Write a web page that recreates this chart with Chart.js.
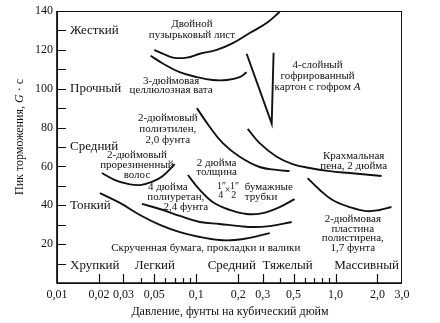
<!DOCTYPE html>
<html>
<head>
<meta charset="utf-8">
<script src="https://cdn.jsdelivr.net/npm/chart.js@4.4.1/dist/chart.umd.min.js"></script>
<style>
  html, body { margin: 0; padding: 0; background: #fff; }
  #wrap { width: 440px; height: 323px; }
</style>
</head>
<body>
<div id="wrap"><canvas id="chart" width="440" height="323"></canvas></div>
<script>
// static pressure, psi (log axis) vs. peak deceleration, G
const bubbleX = [0.050, 0.0575, 0.068, 0.0855, 0.106, 0.140, 0.183, 0.242, 0.320, 0.397];
const bubbleY = [120, 118, 116, 116, 118, 120, 123.5, 128.7, 133.8, 139.5];

const celluloseX = [0.047, 0.0575, 0.076, 0.101, 0.131, 0.166, 0.205, 0.230];
const celluloseY = [117, 113, 108.5, 106, 104.5, 104.5, 106, 108.5];

const cartonX = [0.230, 0.348, 0.359];
const cartonY = [118, 82, 118.5];

const polyethyleneX = [0.101, 0.125, 0.155, 0.205, 0.285, 0.378, 0.468];
const polyethyleneY = [90, 80.3, 72, 65, 59.7, 58.2, 57.6];

const starchX = [0.234, 0.285, 0.378, 0.492, 0.651, 0.906, 1.26, 2.14];
const starchY = [79.3, 72, 65, 61.2, 59.2, 57.6, 56.6, 55.1];

const polystyreneX = [0.63, 0.768, 0.952, 1.26, 1.67, 2.07, 2.52];
const polystyreneY = [54, 48, 42.7, 39.1, 37, 37.6, 39.1];

const tubesX = [0.087, 0.106, 0.131, 0.174, 0.230, 0.300, 0.397, 0.508];
const tubesY = [55.6, 47.9, 41.7, 37.6, 35.5, 36, 39.1, 43.2];

const urethaneX = [0.0407, 0.0548, 0.0762, 0.106, 0.147, 0.205, 0.254, 0.337, 0.484];
const urethaneY = [40.7, 38.1, 34.5, 31.4, 30.4, 29.3, 28.8, 29.3, 31.4];

const twistedX = [0.0203, 0.0283, 0.0394, 0.0548, 0.0762, 0.106, 0.147, 0.189, 0.242, 0.337];
const twistedY = [46.3, 41.2, 35, 29.9, 26.2, 23.7, 22.1, 22.1, 23.2, 25.7];

const hairX = [0.021, 0.0261, 0.0323, 0.0394, 0.048, 0.0575, 0.0701];
const hairY = [56.6, 53, 51, 50.4, 52, 55.1, 61.2];

const xTickValues = [0.01, 0.02, 0.03, 0.05, 0.1, 0.2, 0.3, 0.5, 1.0, 2.0, 3.0];
const xTickLabels = ['0,01', '0,02', '0,03', '0,05', '0,1', '0,2', '0,3', '0,5', '1,0', '2,0', '3,0'];
const xMinorValues = [0.04, 0.06, 0.07, 0.08, 0.09, 0.4, 0.6, 0.7, 0.8, 0.9];
const yTickValues = [20, 40, 60, 80, 100, 120, 140];
const yMinorValues = [10, 30, 50, 70, 90, 110, 130];

const yClassLabels = ['Хрупкий', 'Тонкий', 'Средний', 'Прочный', 'Жесткий'];
const yClassValues = [10, 40, 70, 100, 130];
const xClassLabels = ['Легкий', 'Средний', 'Тяжелый', 'Массивный'];
const xClassValues = [0.0504, 0.180, 0.453, 1.67];

const SERIF = "'Liberation Serif', 'DejaVu Serif', serif";
const INK = '#111';

function pts(xs, ys) {
  return xs.map((x, i) => ({ x: x, y: ys[i] }));
}

function curve(label, xs, ys, tension) {
  return {
    label: label,
    data: pts(xs, ys),
    borderColor: INK,
    borderWidth: 1.9,
    pointRadius: 0,
    tension: tension,
    fill: false
  };
}

// curve captions: anchor in data units, lines stacked downwards
const notes = [
  { x: 0.093, y: 133.3, lines: ['Двойной', 'пузырьковый лист'] },
  { x: 0.066, y: 104, lines: ['3-дюймовая', 'целлюлозная вата'], lh: 9.5 },
  { x: 0.743, y: 112.2, lines: ['4-слойный', 'гофрированный', [['картон с гофром ', false], ['А', true]]] },
  { x: 0.0625, y: 84.9, lines: ['2-дюймовый', 'полиэтилен,', '2,0 фунта'] },
  { x: 0.0375, y: 65.9, lines: ['2-дюймовый', 'прорезиненный', 'волос'], lh: 10 },
  { x: 0.140, y: 61.8, lines: ['2 дюйма', 'толщина'], lh: 9.5 },
  { x: 0.223, y: 49.4, lines: ['бумажные', 'трубки'], lh: 10, align: 'left' },
  { x: 0.0625, y: 49.4, lines: ['4 дюйма', 'полиуретан,', '2,4 фунта'], lh: 10, dx: [0, 8, 18] },
  { x: 0.117, y: 18, lines: ['Скрученная бумага, прокладки и валики'] },
  { x: 1.35, y: 65.4, lines: ['Крахмальная', 'пена, 2 дюйма'], lh: 10 },
  { x: 1.33, y: 32.9, lines: ['2-дюймовая', 'пластина', 'полистирена,', '1,7 фунта'], lh: 9.7 }
];

function drawParts(ctx, parts, x, y, align, size) {
  let total = 0;
  parts.forEach(p => {
    ctx.font = (p[1] ? 'italic ' : '') + size + 'px ' + SERIF;
    total += ctx.measureText(p[0]).width;
  });
  let cx = align === 'center' ? x - total / 2 : (align === 'right' ? x - total : x);
  ctx.textAlign = 'left';
  parts.forEach(p => {
    ctx.font = (p[1] ? 'italic ' : '') + size + 'px ' + SERIF;
    ctx.fillText(p[0], cx, y);
    cx += ctx.measureText(p[0]).width;
  });
}

const decorations = {
  id: 'decorations',
  afterDraw(chart) {
    const ctx = chart.ctx;
    const a = chart.chartArea;
    const xs = chart.scales.x;
    const ys = chart.scales.y;
    ctx.save();
    ctx.strokeStyle = INK;
    ctx.fillStyle = INK;

    // frame
    ctx.lineWidth = 1;
    ctx.strokeRect(a.left + 0.5, a.top + 0.5, a.right - a.left - 1, a.bottom - a.top);
    ctx.lineWidth = 1.7;
    ctx.beginPath();
    ctx.moveTo(a.left, a.top);
    ctx.lineTo(a.left, a.bottom);
    ctx.lineTo(a.right, a.bottom);
    ctx.stroke();

    // inward ticks
    ctx.lineWidth = 1.2;
    ctx.beginPath();
    yTickValues.concat(yMinorValues).forEach(v => {
      const py = Math.round(ys.getPixelForValue(v)) + 0.5;
      ctx.moveTo(a.left, py);
      ctx.lineTo(a.left + 9, py);
    });
    xTickValues.slice(1, -1).forEach(v => {
      const px = Math.round(xs.getPixelForValue(v)) + 0.5;
      ctx.moveTo(px, a.bottom);
      ctx.lineTo(px, a.bottom - 9);
    });
    xMinorValues.forEach(v => {
      const px = Math.round(xs.getPixelForValue(v)) + 0.5;
      ctx.moveTo(px, a.bottom);
      ctx.lineTo(px, a.bottom - 5);
    });
    ctx.stroke();

    // tick labels
    ctx.font = '12px ' + SERIF;
    ctx.textBaseline = 'middle';
    ctx.textAlign = 'right';
    yTickValues.forEach(v => ctx.fillText(String(v), a.left - 4, ys.getPixelForValue(v)));
    ctx.textAlign = 'center';
    xTickValues.forEach((v, i) => ctx.fillText(xTickLabels[i], xs.getPixelForValue(v), a.bottom + 12));

    // class names along the axes
    ctx.font = '13px ' + SERIF;
    ctx.textAlign = 'left';
    yClassValues.forEach((v, i) => {
      const off = i === 0 ? 2 : 0;
      ctx.fillText(yClassLabels[i], a.left + 13, ys.getPixelForValue(v) + off);
    });
    ctx.textAlign = 'center';
    const classY = ys.getPixelForValue(yClassValues[0]) + 2;
    xClassValues.forEach((v, i) => ctx.fillText(xClassLabels[i], xs.getPixelForValue(v), classY));

    // curve captions
    notes.forEach(n => {
      const px = xs.getPixelForValue(n.x);
      const py = ys.getPixelForValue(n.y);
      const lh = n.lh || 11;
      const align = n.align || 'center';
      n.lines.forEach((line, i) => {
        const parts = typeof line === 'string' ? [[line, false]] : line;
        const dx = n.dx ? n.dx[i] : 0;
        drawParts(ctx, parts, px + dx, py + i * lh, align, 11);
      });
    });

    // 1"/4 x 1"/2 fraction next to the paper tubes caption
    const fx = xs.getPixelForValue(0.168);
    const fy = ys.getPixelForValue(49.9);
    ctx.font = '10px ' + SERIF;
    ctx.textAlign = 'center';
    ctx.fillText('1″', fx - 6, fy);
    ctx.fillText('4', fx - 7, fy + 9);
    ctx.fillText('1″', fx + 7, fy);
    ctx.fillText('2', fx + 6, fy + 9);
    ctx.fillText('×', fx, fy + 4);

    // axis titles
    ctx.textBaseline = 'middle';
    drawParts(ctx, [['Давление, фунты на кубический дюйм', false]], 230, 312, 'center', 12);
    ctx.translate(20, 137);
    ctx.rotate(-Math.PI / 2);
    drawParts(ctx, [['Пик торможения, ', false], ['G', true], [' · с', false]], 0, 0, 'center', 12);
    ctx.restore();
  }
};

new Chart(document.getElementById('chart'), {
  type: 'line',
  data: {
    datasets: [
      curve('Двойной пузырьковый лист', bubbleX, bubbleY, 0.4),
      curve('3-дюймовая целлюлозная вата', celluloseX, celluloseY, 0.4),
      curve('4-слойный гофрированный картон', cartonX, cartonY, 0),
      curve('2-дюймовый полиэтилен', polyethyleneX, polyethyleneY, 0.4),
      curve('Крахмальная пена', starchX, starchY, 0.4),
      curve('2-дюймовая пластина полистирена', polystyreneX, polystyreneY, 0.4),
      curve('Бумажные трубки', tubesX, tubesY, 0.4),
      curve('4 дюйма полиуретан', urethaneX, urethaneY, 0.4),
      curve('Скрученная бумага', twistedX, twistedY, 0.4),
      curve('Прорезиненный волос', hairX, hairY, 0.4)
    ]
  },
  options: {
    responsive: false,
    animation: false,
    layout: { padding: { left: 57, right: 38, top: 11, bottom: 40 } },
    plugins: {
      legend: { display: false },
      tooltip: { enabled: false }
    },
    scales: {
      x: { type: 'logarithmic', min: 0.01, max: 3, display: false },
      y: { type: 'linear', min: 0, max: 140, display: false }
    }
  },
  plugins: [decorations]
});
</script>
</body>
</html>
